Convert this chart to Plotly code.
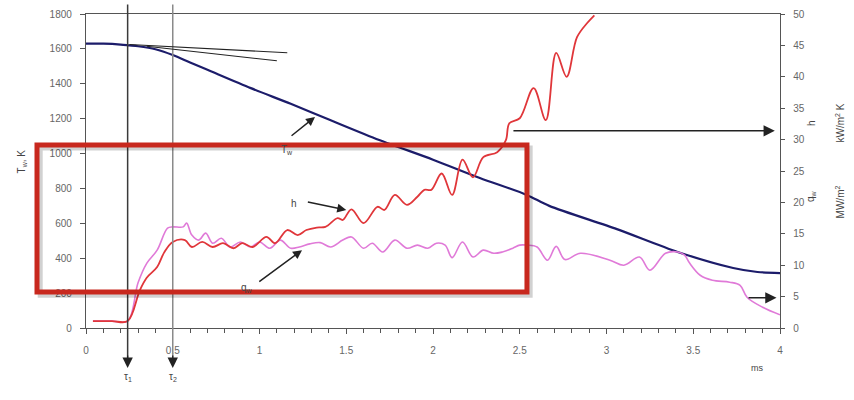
import plotly.graph_objects as go

# ---------------- data ----------------
tw_t = [0, 0.1, 0.2, 0.25, 0.3, 0.4, 0.5, 0.6, 0.7, 0.95, 1.18, 1.4, 1.69, 2.0, 2.27,
        2.54, 2.67, 3.06, 3.41, 3.73, 3.87, 4.0]
tw_K = [1630, 1630, 1625, 1620, 1615, 1598, 1565, 1522, 1480, 1375, 1285, 1195, 1078, 965, 860,
        763, 700, 567, 436, 344, 321, 315]

h_t = [0.04, 0.15, 0.24, 0.31, 0.35, 0.41, 0.45, 0.50, 0.57, 0.61, 0.67, 0.73, 0.79, 0.85,
       0.90, 0.96, 1.04, 1.09, 1.16, 1.22, 1.27, 1.33, 1.38, 1.45, 1.48, 1.53, 1.60, 1.68,
       1.72, 1.78, 1.85, 1.91, 1.95, 1.99, 2.05, 2.11, 2.17, 2.23, 2.29, 2.37, 2.42, 2.44,
       2.50, 2.58, 2.65, 2.71, 2.77, 2.83, 2.89, 2.93]
h_kW = [1.1, 1.1, 1.1, 6.0, 8.0, 9.7, 12.0, 13.7, 14.0, 12.9, 13.7, 12.9, 13.5, 12.7,
        13.5, 12.9, 14.5, 13.5, 15.6, 14.8, 15.6, 16.0, 16.1, 17.5, 17.2, 18.9, 16.7, 19.3,
        18.8, 21.2, 19.6, 20.9, 22.0, 22.0, 24.6, 21.2, 26.8, 24.0, 27.2, 28.0, 29.9, 32.6,
        33.4, 38.2, 33.1, 43.8, 40.0, 46.3, 48.6, 49.8]

q_t = [0.04, 0.15, 0.24, 0.30, 0.35, 0.41, 0.47, 0.50, 0.56, 0.58, 0.61, 0.65, 0.69, 0.73,
       0.78, 0.83, 0.89, 0.95, 1.00, 1.06, 1.12, 1.18, 1.23, 1.29, 1.35, 1.41, 1.48, 1.53,
       1.60, 1.65, 1.71, 1.78, 1.85, 1.91, 1.97, 2.02, 2.07, 2.11, 2.17, 2.23, 2.29, 2.35,
       2.40, 2.46, 2.50, 2.54, 2.60, 2.66, 2.71, 2.76, 2.85, 3.02, 3.10, 3.19, 3.25, 3.34,
       3.41, 3.45, 3.48, 3.54, 3.61, 3.71, 3.77, 3.81, 3.90, 4.00]
q_MW = [1.1, 1.1, 1.1, 7.2, 10.3, 12.4, 15.9, 16.1, 16.1, 16.7, 14.8, 14.0, 15.1, 13.5,
        14.3, 12.9, 13.7, 12.9, 13.7, 12.7, 14.0, 12.7, 12.9, 13.4, 13.6, 12.9, 14.0, 14.5,
        12.7, 13.5, 12.1, 14.0, 12.7, 13.2, 12.7, 13.5, 13.2, 11.2, 13.7, 11.3, 12.4, 11.9,
        12.1, 12.7, 13.2, 13.2, 12.9, 10.8, 13.0, 10.9, 11.9, 10.8, 10.0, 11.3, 9.2, 11.9,
        12.1, 11.6, 10.3, 8.4, 7.6, 7.3, 6.8, 4.9, 3.3, 2.1]

tau_t = [0.24, 0.50]
tau_labels = ["τ<sub>1</sub>", "τ<sub>2</sub>"]
tau_colors = ["#3a3a3a", "#8a8a8a"]

tangent_t0 = [0.25, 0.35]
tangent_K0 = [1625, 1615]
tangent_t1 = [1.16, 1.10]
tangent_K1 = [1578, 1532]

x_ticks = [0, 0.5, 1, 1.5, 2, 2.5, 3, 3.5, 4]
x_ticktext = ["0", "0.5", "1", "1.5", "2", "2.5", "3", "3.5", "4"]

# ---------------- figure ----------------
fig = go.Figure()
fig.add_trace(go.Scatter(x=tw_t, y=tw_K, mode="lines", name="Tw",
                         line=dict(color="#1c1c6a", width=2.2, shape="spline", smoothing=0.8)))
fig.add_trace(go.Scatter(x=q_t, y=q_MW, mode="lines", name="qw", yaxis="y2",
                         line=dict(color="#e07ad8", width=1.6, shape="spline")))
fig.add_trace(go.Scatter(x=h_t, y=h_kW, mode="lines", name="h", yaxis="y2",
                         line=dict(color="#e0363a", width=1.8, shape="spline")))

tickfont = dict(family="Liberation Sans, Arial", size=10, color="#666666")

fig.update_layout(
    width=854, height=400,
    margin=dict(l=86, r=74, t=14, b=72, autoexpand=False),
    paper_bgcolor="white", plot_bgcolor="white",
    showlegend=False,
    xaxis=dict(range=[0, 4], tickvals=x_ticks, ticktext=x_ticktext, automargin=False,
               showgrid=False, zeroline=False, showline=True, linecolor="#555555",
               linewidth=1.3, mirror=True, ticks="outside", ticklen=5, tickcolor="#555555",
               minor=dict(dtick=0.1, ticks="outside", ticklen=4, tickcolor="#555555"),
               tickfont=tickfont, ticklabelstandoff=8),
    yaxis=dict(range=[0, 1800], dtick=200, showgrid=False, zeroline=False, automargin=False,
               showline=True, linecolor="#555555", linewidth=1.3,
               ticks="outside", ticklen=5, tickcolor="#555555",
               tickfont=tickfont, ticklabelstandoff=6),
    yaxis2=dict(range=[0, 50], dtick=5, overlaying="y", side="right", automargin=False,
                showgrid=False, zeroline=False, showline=True, linecolor="#555555",
                linewidth=1.3, ticks="outside", ticklen=4, tickcolor="#555555",
                tickfont=tickfont, ticklabelstandoff=6),
)

shapes = []
# tau vertical lines
for t, c in zip(tau_t, tau_colors):
    shapes.append(dict(type="line", xref="x", yref="paper", x0=t, x1=t, y0=-0.10, y1=1.03,
                       line=dict(color=c, width=1.5)))
# tangent lines
for a, b, c, d in zip(tangent_t0, tangent_K0, tangent_t1, tangent_K1):
    shapes.append(dict(type="line", xref="x", yref="y", x0=a, y0=b, x1=c, y1=d,
                       line=dict(color="#222222", width=1.1)))
# red highlight box (overlay) with soft shadow
shapes.append(dict(type="rect", xref="paper", yref="paper",
                   x0=-0.066, x1=0.640, y0=0.104, y1=0.573,
                   line=dict(color="rgba(0,0,0,0.18)", width=5), layer="above"))
shapes.append(dict(type="rect", xref="paper", yref="paper",
                   x0=-0.0706, x1=0.6354, y0=0.1146, y1=0.5828,
                   line=dict(color="#c8281e", width=5), layer="above"))
fig.update_layout(shapes=shapes)

ann = []
afont = dict(family="Liberation Sans, Arial", size=10, color="#444444")
for t, lab, c in zip(tau_t, tau_labels, tau_colors):
    ann.append(dict(x=t, y=-0.127, xref="x", yref="paper", ax=0, ay=-14, text="",
                    showarrow=True, arrowhead=2, arrowsize=1.6, arrowwidth=1.3, arrowcolor="#222"))
    ann.append(dict(x=t, y=-0.18, xref="x", yref="paper", text=lab, showarrow=False,
                    font=afont))
# curve labels with arrows
ann.append(dict(x=1.32, y=1210, xref="x", yref="y", ax=1.176, ay=1095, axref="x", ayref="y",
                text="", showarrow=True, arrowhead=2, arrowsize=1.2, arrowwidth=1.5, arrowcolor="#222"))
ann.append(dict(x=1.16, y=1021, xref="x", yref="y", text="T<sub>w</sub>", showarrow=False, font=afont))
ann.append(dict(x=1.50, y=18.8, xref="x", yref="y2", ax=1.27, ay=20.1, axref="x", ayref="y2",
                text="", showarrow=True, arrowhead=2, arrowsize=1.2, arrowwidth=1.5, arrowcolor="#222"))
ann.append(dict(x=1.20, y=19.9, xref="x", yref="y2", text="h", showarrow=False, font=afont))
ann.append(dict(x=1.245, y=12.4, xref="x", yref="y2", ax=0.99, ay=7.2, axref="x", ayref="y2",
                text="", showarrow=True, arrowhead=2, arrowsize=1.2, arrowwidth=1.5, arrowcolor="#222"))
ann.append(dict(x=0.93, y=6.3, xref="x", yref="y2", text="q<sub>w</sub>", showarrow=False, font=afont))
# horizontal arrows to right axis
ann.append(dict(x=3.97, y=31.4, xref="x", yref="y2", ax=2.455, ay=31.4, axref="x", ayref="y2",
                text="", showarrow=True, arrowhead=2, arrowsize=1.5, arrowwidth=1.5, arrowcolor="#222"))
ann.append(dict(x=3.98, y=4.8, xref="x", yref="y2", ax=3.81, ay=4.8, axref="x", ayref="y2",
                text="", showarrow=True, arrowhead=2, arrowsize=1.5, arrowwidth=1.5, arrowcolor="#222"))
# axis titles
ann.append(dict(x=-0.104, y=0.53, xref="paper", yref="paper", text="T<sub>w</sub>, K",
                textangle=-90, showarrow=False, font=afont))
ann.append(dict(x=1.056, y=0.67, xref="paper", yref="paper", text="h",
                textangle=-90, showarrow=False, font=afont))
ann.append(dict(x=1.098, y=0.72, xref="paper", yref="paper", text="kW/m<sup>2</sup> K",
                textangle=-90, showarrow=False, font=afont))
ann.append(dict(x=1.056, y=0.42, xref="paper", yref="paper", text="q<sub>w</sub>",
                textangle=-90, showarrow=False, font=afont))
ann.append(dict(x=1.098, y=0.40, xref="paper", yref="paper", text="MW/m<sup>2</sup>",
                textangle=-90, showarrow=False, font=afont))
ann.append(dict(x=0.978, y=-0.15, xref="paper", yref="paper", text="ms",
                showarrow=False, font=dict(family="Liberation Sans, Arial", size=9, color="#444")))
fig.update_layout(annotations=ann)

fig.write_html("out.html", config={"displayModeBar": False},
               post_script="document.body.style.margin='0px';document.body.style.overflow='hidden';")
